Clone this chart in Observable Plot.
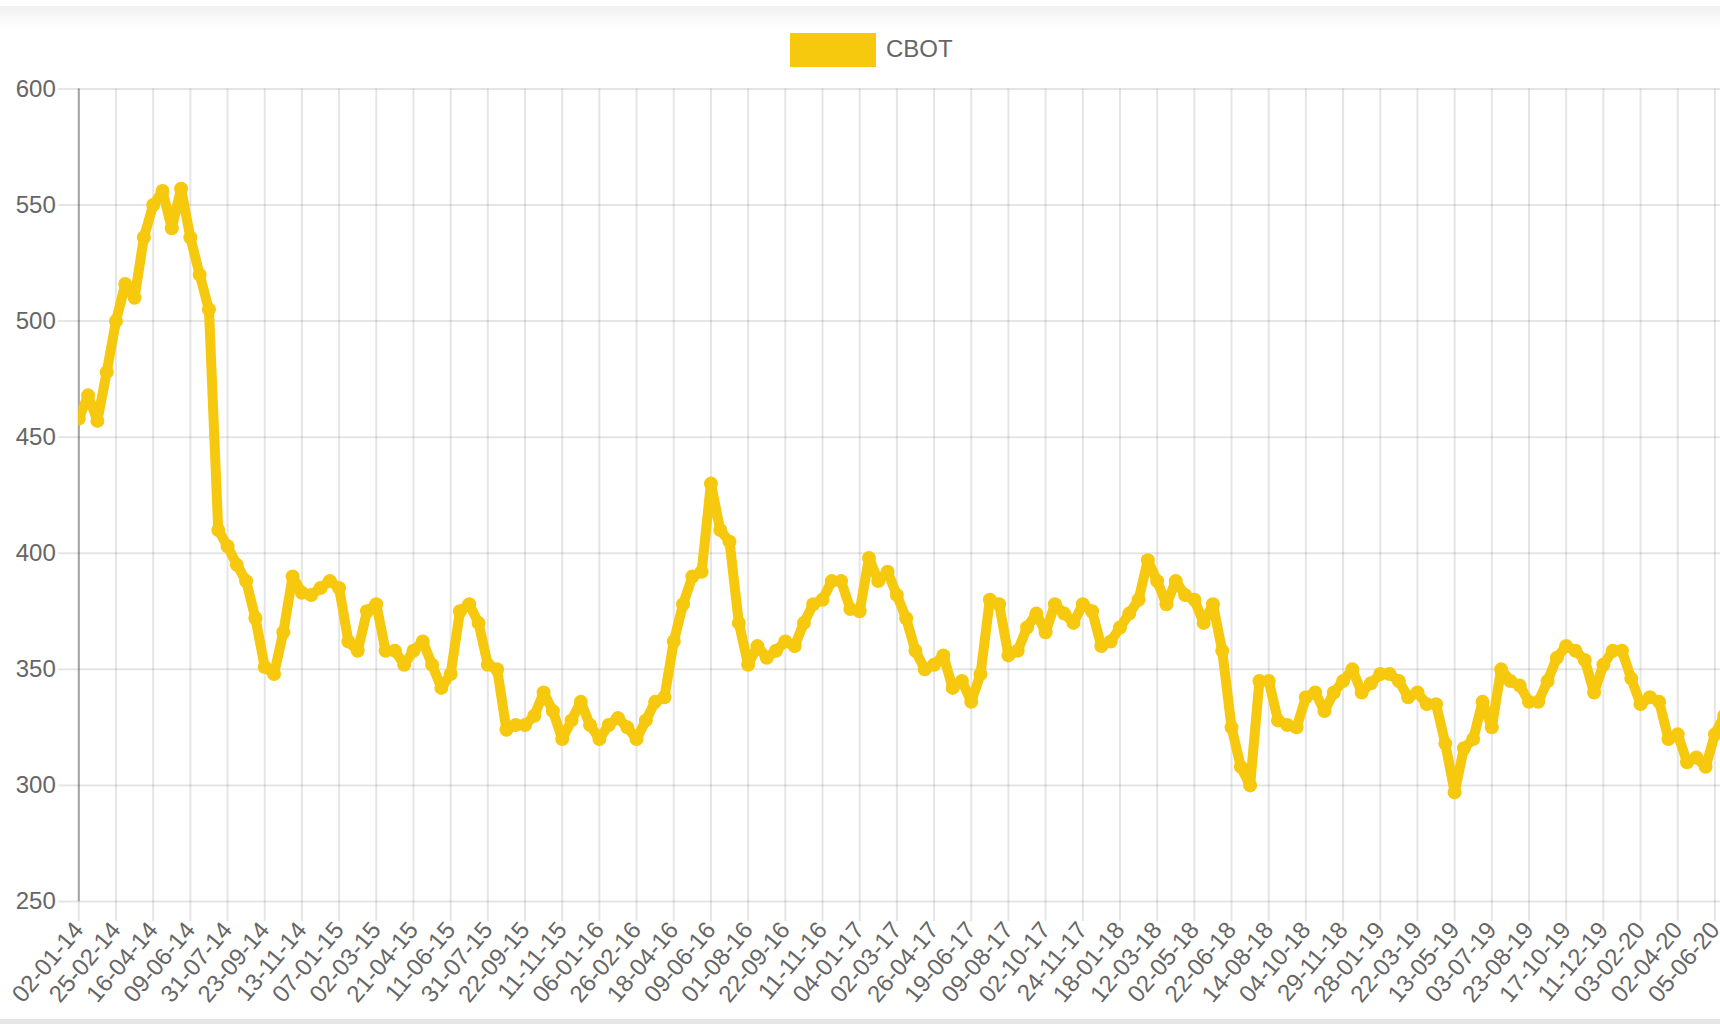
<!DOCTYPE html>
<html>
<head>
<meta charset="utf-8">
<script src="https://cdn.jsdelivr.net/npm/d3@7"></script>
<script src="https://cdn.jsdelivr.net/npm/@observablehq/plot@0.6"></script>
<style>
  html, body { margin: 0; padding: 0; background: #fff; overflow: hidden; width: 1720px; height: 1024px; }
  body { position: relative; font-family: "Liberation Sans", Arial, sans-serif; }
  #topband { position: absolute; left: 0; top: 6px; width: 1720px; height: 24px; background: linear-gradient(#f1f1f1, #ffffff); }
  #bottombar { position: absolute; left: 0; top: 1019px; width: 1720px; height: 5px; background: #e6e6e6; }
  #legend { position: relative; height: 70px; width: 1720px; }
  #legend .box { position: absolute; left: 790px; top: 33px; width: 86px; height: 34px; background: #f6c80e; }
  #legend .lbl { position: absolute; left: 886px; top: 35px; font-size: 24px; line-height: 28px; color: #666; }
  #chart { position: relative; }
</style>
</head>
<body>
<div id="topband"></div>
<div id="legend"><div class="box"></div><div class="lbl">CBOT</div></div>
<div id="chart"></div>
<div id="bottombar"></div>
<script>
// Category tick labels (one every ~37 trading days)
const dateLabels = ["02-01-14","25-02-14","16-04-14","09-06-14","31-07-14","23-09-14","13-11-14",
  "07-01-15","02-03-15","21-04-15","11-06-15","31-07-15","22-09-15","11-11-15",
  "06-01-16","26-02-16","18-04-16","09-06-16","01-08-16","22-09-16","11-11-16",
  "04-01-17","02-03-17","26-04-17","19-06-17","09-08-17","02-10-17","24-11-17",
  "18-01-18","12-03-18","02-05-18","22-06-18","14-08-18","04-10-18","29-11-18",
  "28-01-19","22-03-19","13-05-19","03-07-19","23-08-19","17-10-19","11-12-19",
  "03-02-20","02-04-20","05-06-20"];

// CBOT series: four samples per labelled interval
const cbot = [
  458,468,457,478, 500,516,510,536, 550,556,540,557, 536,520,505,410,
  403,395,388,372, 351,348,366,390, 383,382,385,388, 385,362,358,375,
  378,358,358,352, 358,362,352,342, 348,375,378,370, 352,350,324,326,
  326,330,340,332, 320,328,336,326, 320,326,329,325, 320,328,336,338,
  362,378,390,392, 430,410,405,370, 352,360,355,358, 362,360,370,378,
  380,388,388,376, 375,398,388,392, 382,372,358,350, 352,356,342,345,
  336,348,380,378, 356,358,368,374, 366,378,374,370, 378,375,360,362,
  368,374,380,397, 388,378,388,382, 380,370,378,358, 325,308,300,345,
  345,328,326,325, 338,340,332,340, 345,350,340,344, 348,348,345,338,
  340,335,335,318, 297,316,320,336, 325,350,345,343, 336,336,345,355,
  360,358,354,340, 352,358,358,346, 335,338,336,320, 322,310,312,308,
  322,330
];
const samplesPerLabel = 4;
const yTicks = [250, 300, 350, 400, 450, 500, 550, 600];

const data = cbot.map((v, i) => ({pos: i / samplesPerLabel, value: v}));
const xTicks = dateLabels.map((d, i) => i);
const yellow = "#f6c80e";

const chart = Plot.plot({
  width: 1720,
  height: 954,
  marginLeft: 78.3,
  marginRight: 0,
  marginTop: 18.4,
  marginBottom: 123,
  x: {domain: [0, 44.15]},
  y: {domain: [250, 600]},
  style: {fontFamily: "'Liberation Sans', Arial, sans-serif", fontSize: "24px", color: "#666", background: "transparent"},
  marks: [
    Plot.gridY(yTicks, {stroke: "#000", strokeOpacity: 0.1, strokeWidth: 2}),
    Plot.gridX(xTicks, {stroke: "#000", strokeOpacity: 0.1, strokeWidth: 2}),
    Plot.axisY(yTicks, {tickSize: 20, tickPadding: 3, stroke: "#000", strokeOpacity: 0.1, strokeWidth: 2, fill: "#666", fontSize: 24, label: null}),
    Plot.axisX(xTicks, {tickFormat: i => dateLabels[i], tickRotate: -50, tickSize: 20, tickPadding: 4, stroke: "#000", strokeOpacity: 0.1, strokeWidth: 2, fill: "#666", fontSize: 24, label: null}),
    Plot.ruleX([0], {y1: 250, y2: 600, stroke: "#000", strokeOpacity: 0.3, strokeWidth: 2}),
    Plot.line(data, {x: "pos", y: "value", stroke: yellow, strokeWidth: 10, strokeLinejoin: "round", strokeLinecap: "round", clip: true}),
    Plot.dot(data, {x: "pos", y: "value", r: 7, fill: yellow, stroke: "none", clip: true})
  ]
});
document.getElementById("chart").appendChild(chart);
</script>
</body>
</html>
